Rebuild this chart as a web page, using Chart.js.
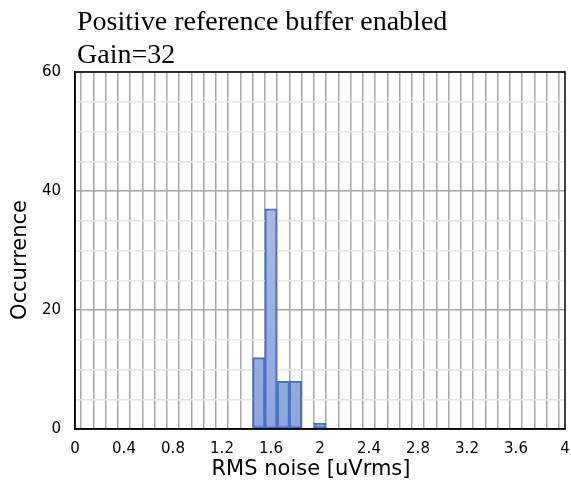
<!DOCTYPE html>
<html>
<head>
<meta charset="utf-8">
<script src="https://cdn.jsdelivr.net/npm/chart.js@4/dist/chart.umd.min.js"></script>
<style>
  html, body { margin: 0; padding: 0; background: #fff; }
  #wrap { width: 571px; height: 483px; }
</style>
</head>
<body>
<div id="wrap"><canvas id="c"></canvas></div>
<script>
// histogram bins (centre of each 0.1 wide bin) and counts
const binCenters = [1.5, 1.6, 1.7, 1.8, 2.0];
const counts = [12, 37, 8, 8, 1];
const titleLines = ['Positive reference buffer enabled', 'Gain=32'];
const xTitle = 'RMS noise [uVrms]';
const yTitle = 'Occurrence';

// frame round the plot area, chart title and axis titles
const frame = {
	id: 'frame',
	afterDraw(chart) {
		const { ctx, chartArea: a } = chart;
		ctx.save();
		ctx.strokeStyle = '#000';
		ctx.lineWidth = 1.5;
		ctx.strokeRect(a.left, a.top, a.right - a.left, a.bottom - a.top);

		ctx.fillStyle = '#000';
		ctx.font = '28px "Liberation Serif", "Times New Roman", serif';
		ctx.textBaseline = 'alphabetic';
		ctx.textAlign = 'left';
		ctx.fillText(titleLines[0], 77, 30);
		ctx.fillText(titleLines[1], 77, 63);

		ctx.font = '21px "DejaVu Sans", sans-serif';
		ctx.textAlign = 'center';
		ctx.textBaseline = 'middle';
		ctx.fillText(xTitle, 311, 470);

		ctx.translate(21, 260);
		ctx.rotate(-Math.PI / 2);
		ctx.fillText(yTitle, 0, 0);
		ctx.restore();
	}
};

const barFill = (c) => {
	const a = c.chart.chartArea;
	if (!a) return '#9cb0e0';
	const g = c.chart.ctx.createLinearGradient(0, 200, 0, a.bottom);
	g.addColorStop(0, '#a9bae5');
	g.addColorStop(1, '#8ea6dc');
	return g;
};

const ctx = document.getElementById('c').getContext('2d');
new Chart(ctx, {
	type: 'bar',
	data: {
		datasets: [{
			data: binCenters.map((x, i) => ({ x: x, y: counts[i] })),
			backgroundColor: barFill,
			borderColor: '#4472c4',
			borderWidth: 2,
			borderSkipped: false,
			barPercentage: 1,
			categoryPercentage: 1,
		}],
	},
	options: {
		responsive: true,
		maintainAspectRatio: false,
		animation: false,
		layout: { padding: { top: 72, right: 6, left: 0, bottom: 0 } },
		plugins: {
			legend: { display: false },
			tooltip: { enabled: false },
		},
		scales: {
			x: {
				type: 'linear',
				min: 0,
				max: 4,
				offset: false,
				grid: { color: '#a6a6a6', lineWidth: 1.5, drawTicks: false },
				border: { color: '#000', width: 1.5 },
				ticks: {
					stepSize: 0.1,
					autoSkip: false,
					maxRotation: 0,
					padding: 11,
					color: '#000',
					font: { family: 'DejaVu Sans', size: 15 },
					callback: (v, i) => (i % 4 === 0 ? String(Math.round(v * 10) / 10) : ''),
				},
				afterFit: (s) => { s.height = 54; s.paddingLeft = 0; s.paddingRight = 0; },
			},
			y: {
				min: 0,
				max: 60,
				grid: {
					color: (c) => (c.tick && c.tick.value % 20 === 0 ? '#a6a6a6' : '#e8e8e8'),
					lineWidth: 1.5,
					drawTicks: false,
				},
				border: { color: '#000', width: 1.5 },
				ticks: {
					stepSize: 5,
					autoSkip: false,
					padding: 14,
					color: '#000',
					font: { family: 'DejaVu Sans', size: 15 },
					callback: (v) => (v % 20 === 0 ? String(v) : ''),
				},
				afterFit: (s) => { s.width = 75; s.paddingTop = 0; s.paddingBottom = 0; },
			},
		},
	},
	plugins: [frame],
});
</script>
</body>
</html>
